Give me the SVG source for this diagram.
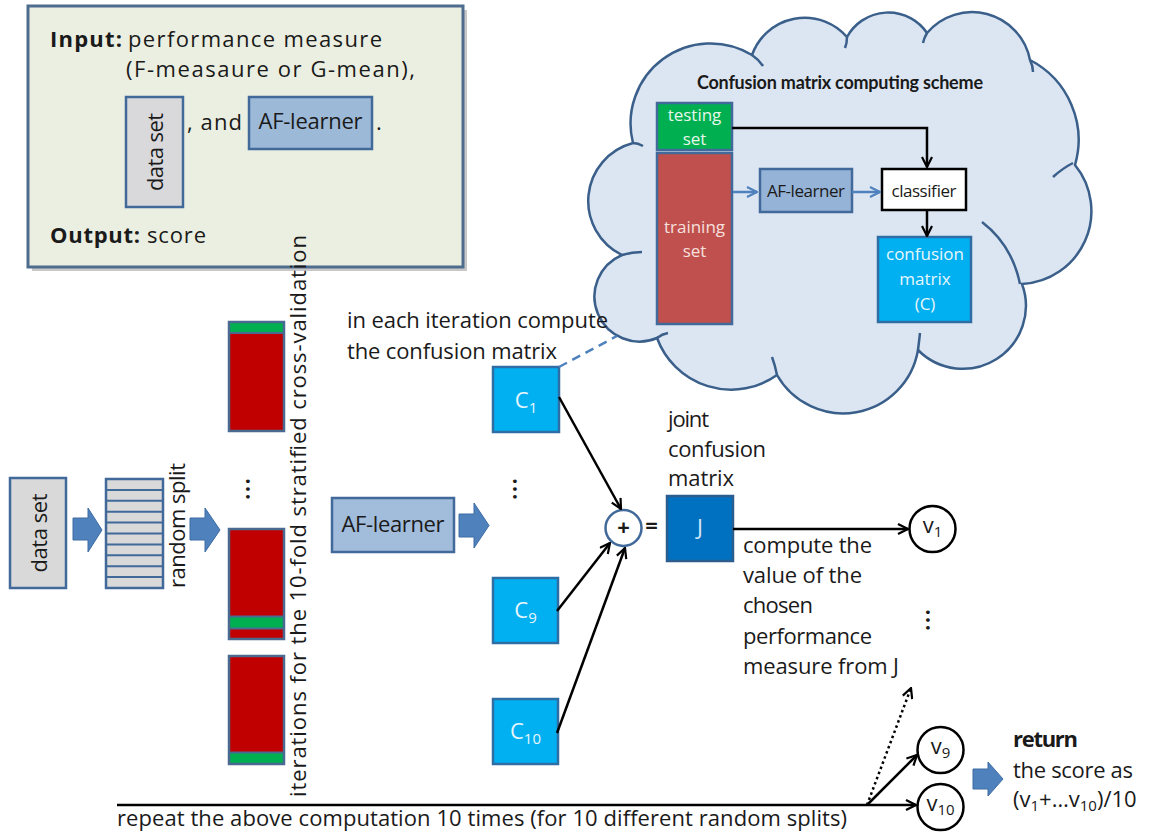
<svg xmlns="http://www.w3.org/2000/svg" width="1149" height="836" viewBox="0 0 1149 836">
<defs>
<style>
text{font-family:"Open Sans","Liberation Sans",sans-serif;fill:#1a1a1a;font-size:22px;}
.b{font-weight:bold;}
.mid{text-anchor:middle;}
.bx{stroke:#41699a;stroke-width:2.5;}
.cb{fill:#00b0f0;stroke:#2f6ea5;stroke-width:2.5;}
.ct{fill:#e8f6fd;text-anchor:middle;}
.fs{fill:none;stroke:#4a6a91;stroke-width:2.5;}
.red{fill:#c00000;}
.grn{fill:#00b050;}
.blk{fill:#4f81bd;stroke:#3d6ca3;stroke-width:1;}
.conn{stroke:#000;stroke-width:2.5;fill:none;}
.circ{fill:#fff;stroke:#000;stroke-width:2.5;}
.cl{font-size:17px;}
.dots{font-size:30px;}
.title{font-family:Lato,"Open Sans",sans-serif;font-weight:bold;font-size:18px;text-anchor:middle;}
</style>
<marker id="ah" viewBox="0 0 12 12" refX="11" refY="6" markerWidth="12" markerHeight="12" markerUnits="userSpaceOnUse" orient="auto"><path d="M1,1 L11,6 L1,11" fill="none" stroke="#000" stroke-width="2.2"/></marker>
<marker id="ahb" viewBox="0 0 12 12" refX="11" refY="6" markerWidth="12" markerHeight="12" markerUnits="userSpaceOnUse" orient="auto"><path d="M1,1 L11,6 L1,11" fill="none" stroke="#4f81bd" stroke-width="2.2"/></marker>
</defs>
<rect width="1149" height="836" fill="#fff"/>

<g id="input-box">
<rect x="32" y="10" width="435" height="261" fill="#9a9a9a" opacity="0.55"/>
<rect x="28" y="6" width="435" height="261" fill="#ebefe1" stroke="#4e6c8e" stroke-width="3"/>
<text x="50" y="47" class="b" textLength="72">Input:</text>
<text x="128" y="47" textLength="254">performance measure</text>
<text x="126" y="77" textLength="289">(F-measaure or G-mean),</text>
<rect x="126" y="97" width="57" height="110" fill="#d9d9dc" class="bx"/>
<text transform="translate(163,152) rotate(-90)" class="mid" textLength="78">data set</text>
<text x="187" y="130" textLength="55">, and</text>
<rect x="249" y="97" width="123" height="52" fill="#9db9d8" class="bx"/>
<text x="310.5" y="129" class="mid" font-size="20" textLength="104">AF-learner</text>
<text x="376" y="130">.</text>
<text x="50" y="243" class="b" textLength="90">Output:</text>
<text x="147" y="243" textLength="59">score</text>
</g>

<g id="cloud">
<path d="M633,143 A80,80 0 0 1 752,55 A56,56 0 0 1 847,37 A47,47 0 0 1 927,33 A59,59 0 0 1 1030,60 A90,90 0 0 1 1075,165 A73,73 0 0 1 1022,284 A63,63 0 0 1 918,350 A76,76 0 0 1 777,375 A79,79 0 0 1 657,338 A45,45 0 0 1 622,255 A60,60 0 0 1 633,143 Z" fill="#dce6f2" stroke="#3a5f8a" stroke-width="2.5"/>
<path d="M752,55 q6,4 11,11 M847,37 q0,6 -2,11 M927,33 q-3,5 -4,10 M1030,60 q3,6 3,12 M1073,163 q-10,5 -20,14 M982,222 Q1012,245 1020,284 M918,350 q1,-8 2,-17 M777,375 q-2,-10 -5,-18 M657,338 q5,-4 11,-5 M622,255 q10,-3 20,-3 M633,143 q5,0 10,3" fill="none" stroke="#3a5f8a" stroke-width="2.5"/>
<text x="840" y="89" class="title" textLength="286">Confusion matrix computing scheme</text>
</g>

<g id="testing-set">
<rect x="657" y="103" width="75" height="47" class="grn bx"/>
<text x="694.5" y="121" class="cl mid" style="fill:#e6f6ea">testing</text>
<text x="694.5" y="145" class="cl mid" style="fill:#e6f6ea">set</text>
</g>
<g id="training-set">
<rect x="657" y="153" width="75" height="171" fill="#c0504d" class="bx"/>
<text x="694.5" y="233" class="cl mid" style="fill:#f6e0df">training</text>
<text x="694.5" y="257" class="cl mid" style="fill:#f6e0df">set</text>
</g>
<g id="cloud-af-learner">
<rect x="760" y="169" width="92" height="43" fill="#95b3d7" class="bx"/>
<text x="806" y="197" class="cl mid" textLength="78">AF-learner</text>
</g>
<g id="classifier">
<rect x="882" y="169" width="84" height="41" fill="#fff" stroke="#000" stroke-width="2.5"/>
<text x="924" y="197" class="cl mid" textLength="65">classifier</text>
</g>
<g id="confusion-matrix">
<rect x="878" y="237" width="93" height="85" class="cb"/>
<text x="925" y="260" class="cl ct">confusion</text>
<text x="925" y="285" class="cl ct">matrix</text>
<text x="925" y="310" class="cl ct">(C)</text>
</g>

<g id="data-set">
<rect x="10" y="478" width="56" height="110" fill="#d9d9d9" class="bx"/>
<text transform="translate(47,533) rotate(-90)" class="mid" textLength="79">data set</text>
</g>
<polygon id="arrow-1" class="blk" points="73,518 88,518 88,508 102,530 88,552 88,540 73,540"/>
<g id="random-split">
<rect x="106" y="479" width="57" height="109" fill="#d9d9d9" class="bx"/>
<path d="M106,489.9 H163 M106,500.8 H163 M106,511.7 H163 M106,522.6 H163 M106,533.5 H163 M106,544.4 H163 M106,555.3 H163 M106,566.2 H163 M106,577.1 H163" stroke="#41699a" stroke-width="2"/>
<text transform="translate(185,525.5) rotate(-90)" class="mid" textLength="125">random split</text>
</g>
<polygon id="arrow-2" class="blk" points="190,518 205,518 205,508 220,530 205,552 205,540 190,540"/>

<g id="folds">
<rect x="229" y="322" width="55" height="109" class="red"/>
<rect x="229" y="322" width="55" height="11" class="grn"/>
<path d="M229,333 H284" stroke="#4a6a91" stroke-width="2"/>
<rect x="229" y="322" width="55" height="109" class="fs"/>
<text transform="translate(246,489) rotate(90)" class="mid dots">…</text>
<rect x="229" y="529" width="55" height="110" class="red"/>
<rect x="229" y="617" width="55" height="11" class="grn"/>
<path d="M229,616.5 H284 M229,628.5 H284" stroke="#4a6a91" stroke-width="2"/>
<rect x="229" y="529" width="55" height="110" class="fs"/>
<rect x="229" y="656" width="55" height="108" class="red"/>
<rect x="229" y="753" width="55" height="11" class="grn"/>
<path d="M229,752.5 H284" stroke="#4a6a91" stroke-width="2"/>
<rect x="229" y="656" width="55" height="108" class="fs"/>
<text transform="translate(306,516) rotate(-90)" class="mid" textLength="562">iterations for the 10-fold stratified cross-validation</text>
</g>

<g id="af-learner">
<rect x="332" y="498" width="122" height="54" fill="#a2bcdb" class="bx"/>
<text x="393" y="532" class="mid" textLength="103">AF-learner</text>
</g>
<polygon id="arrow-3" class="blk" points="459,514 474,514 474,503 489,525.5 474,548 474,537 459,537"/>

<text x="347" y="328" textLength="261">in each iteration compute</text>
<text x="347" y="359" textLength="210">the confusion matrix</text>

<g id="C1">
<rect x="493" y="367" width="66" height="65" class="cb"/>
<text x="526" y="408" class="ct">C<tspan font-size="15" dy="5">1</tspan></text>
</g>
<text transform="translate(513,489) rotate(90)" class="mid dots">…</text>
<g id="C9">
<rect x="493" y="578" width="65" height="65" class="cb"/>
<text x="525.5" y="618" class="ct">C<tspan font-size="15" dy="5">9</tspan></text>
</g>
<g id="C10">
<rect x="493" y="699" width="65" height="65" class="cb"/>
<text x="525.5" y="739" class="ct">C<tspan font-size="15" dy="5">10</tspan></text>
</g>

<g id="plus">
<circle cx="623.5" cy="528" r="18" fill="#fff" stroke="#41699a" stroke-width="2.5"/>
<text x="623.5" y="535" class="b mid" font-size="20">+</text>
</g>
<text x="651.5" y="533" class="b mid" font-size="20">=</text>

<g id="J">
<text x="668" y="427" textLength="41">joint</text>
<text x="668" y="457" textLength="98">confusion</text>
<text x="668" y="486" textLength="66">matrix</text>
<rect x="667" y="496" width="66" height="65" fill="#0070c0" stroke="#2c5d8f" stroke-width="2.5"/>
<text x="700" y="535" class="mid" font-size="16" style="fill:#d5e8f8">J</text>
</g>

<g id="compute-label">
<text x="743" y="553" textLength="129">compute the</text>
<text x="743" y="583" textLength="119">value of the</text>
<text x="743" y="613" textLength="70">chosen</text>
<text x="743" y="644" textLength="129">performance</text>
<text x="743" y="674" textLength="156">measure from J</text>
</g>

<g id="v1">
<circle cx="932.5" cy="529" r="23" class="circ"/>
<text x="932.5" y="533" class="mid">v<tspan font-size="15" dy="4">1</tspan></text>
</g>
<text transform="translate(926,620) rotate(90)" class="mid dots">…</text>
<g id="v9">
<circle cx="940.5" cy="750" r="23" class="circ"/>
<text x="940.5" y="754" class="mid">v<tspan font-size="15" dy="4">9</tspan></text>
</g>
<g id="v10">
<circle cx="940.5" cy="807" r="23" class="circ"/>
<text x="940.5" y="811" class="mid">v<tspan font-size="15" dy="4">10</tspan></text>
</g>

<polygon id="arrow-4" class="blk" points="973,769 988,769 988,762 1003,779 988,796 988,789 973,789"/>
<g id="return">
<text x="1013" y="747" class="b" textLength="65">return</text>
<text x="1013" y="778" textLength="120">the score as</text>
<text x="1013" y="807">(v<tspan font-size="15" dy="4">1</tspan><tspan dy="-4">+…v</tspan><tspan font-size="15" dy="4">10</tspan><tspan dy="-4">)/10</tspan></text>
</g>

<text x="117" y="826" textLength="730">repeat the above computation 10 times (for 10 different random splits)</text>

<g id="connectors">
<path d="M733,192 H757" stroke="#4f81bd" stroke-width="2.5" marker-end="url(#ahb)"/>
<path d="M852,192 H880" stroke="#4f81bd" stroke-width="2.5" marker-end="url(#ahb)"/>
<path d="M732,128 H927 V167" class="conn" marker-end="url(#ah)"/>
<path d="M927,210 V236" class="conn" marker-end="url(#ah)"/>
<path d="M559,367 L617,336" stroke="#4f81bd" stroke-width="2.5" stroke-dasharray="9,6" fill="none"/>
<path d="M559,397 L621,509" class="conn" marker-end="url(#ah)"/>
<path d="M557,611 L610,543" class="conn" marker-end="url(#ah)"/>
<path d="M557,733 L625,548" class="conn" marker-end="url(#ah)"/>
<path d="M733,529 H908" class="conn" marker-end="url(#ah)"/>
<path d="M117,805 H916" class="conn" stroke-width="3" marker-end="url(#ah)"/>
<path d="M867,805 L917,755" class="conn" marker-end="url(#ah)"/>
<path d="M867,805 L911,688" class="conn" stroke-dasharray="2.5,3" marker-end="url(#ah)"/>
</g>
</svg>
